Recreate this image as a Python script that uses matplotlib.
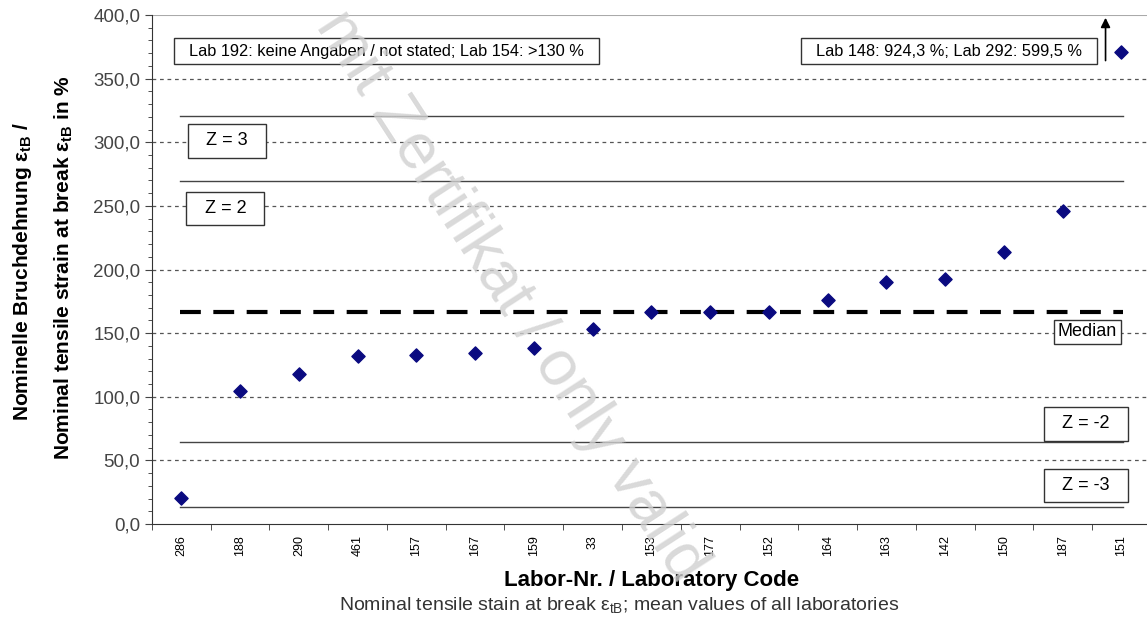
import numpy as np
import matplotlib
matplotlib.use("Agg")
import matplotlib.pyplot as plt
from matplotlib.ticker import MultipleLocator, FuncFormatter

plt.rcParams['font.family'] = ['Liberation Sans', 'DejaVu Sans']

# Labor-Codes und Mittelwerte
labs = ["286", "188", "290", "461", "157", "167", "159", "33", "153",
        "177", "152", "164", "163", "142", "150", "187", "151"]
werte = [20.4, 104.5, 118.0, 132.0, 133.0, 134.0, 138.0, 153.0, 167.0,
         167.0, 167.0, 176.0, 190.0, 192.5, 214.0, 246.0, 371.0]

median = 167.0
z_linien = {"Z = 3": 320.9, "Z = 2": 269.6, "Z = -2": 64.4, "Z = -3": 13.1}

fig = plt.figure(figsize=(11.47, 6.17), dpi=100)
ax = fig.add_axes([0.1325, 0.1507, 0.8708, 0.825])

x = np.arange(len(labs))
ax.set_xlim(-0.5, len(labs) - 0.5)
ax.set_ylim(0, 400)

# Gitter
for g in range(50, 400, 50):
    ax.axhline(g, color="#555555", lw=0.9, ls=(0, (3, 3)), zorder=1)
ax.axhline(400, color="#aaaaaa", lw=1.5, zorder=1)

# Z-Linien und Median
x0, x1 = -0.03, 16.03
for name, v in z_linien.items():
    ax.plot([x0, x1], [v, v], color="#444444", lw=1.0, zorder=2)
ax.plot([x0, x1], [median, median], color="black", lw=3, ls=(0, (5, 3)), zorder=3)

ax.scatter(x, werte, marker="D", s=45, color="#0a0a80", zorder=4)

box = dict(boxstyle="square,pad=0.35", fc="white", ec="#333333", lw=1)
ax.text(-0.02, 371.5, "  Lab 192: keine Angaben / not stated; Lab 154: >130 %  ",
        fontsize=11.8, va="center", ha="left", bbox=box, zorder=5)
ax.text(10.65, 371.5, "  Lab 148: 924,3 %; Lab 292: 599,5 %  ",
        fontsize=11.8, va="center", ha="left", bbox=box, zorder=5)
ax.annotate("", xy=(15.73, 400), xytext=(15.73, 362),
            arrowprops=dict(arrowstyle="-|>", color="black", lw=1.2,
                            mutation_scale=14), zorder=6)

box2 = dict(boxstyle="square,pad=0.45", fc="white", ec="#333333", lw=1)
ax.text(0.77, 301, "  Z = 3  ", fontsize=13, ha="center", va="center", bbox=box2, zorder=5)
ax.text(0.75, 248, "  Z = 2  ", fontsize=13, ha="center", va="center", bbox=box2, zorder=5)
ax.text(15.4, 78.6, "  Z = -2  ", fontsize=13, ha="center", va="center", bbox=box2, zorder=5)
ax.text(15.4, 30, "  Z = -3  ", fontsize=13, ha="center", va="center", bbox=box2, zorder=5)
ax.text(15.42, 151, "Median", fontsize=13, ha="center", va="center",
        bbox=dict(boxstyle="square,pad=0.2", fc="white", ec="#333333", lw=1), zorder=5)

# Achsen
for s in ["top", "right"]:
    ax.spines[s].set_visible(False)
ax.spines["left"].set_color("#333333")
ax.spines["bottom"].set_color("#333333")
ax.yaxis.set_major_locator(MultipleLocator(50))
ax.yaxis.set_minor_locator(MultipleLocator(10))
ax.yaxis.set_major_formatter(FuncFormatter(lambda v, p: f"{v:.1f}".replace(".", ",")))
ax.tick_params(axis="y", which="major", labelsize=13.5, colors="#444444", length=5)
ax.tick_params(axis="y", which="minor", length=3, color="#333333")

ax.set_xticks(x)
ax.set_xticklabels(labs, rotation=90, fontsize=9)
ax.set_xticks(np.arange(-0.5, len(labs)), minor=True)
ax.tick_params(axis="x", which="major", length=0, pad=8)
ax.tick_params(axis="x", which="minor", length=4, color="#333333")

ax.set_xlabel("Labor-Nr. / Laboratory Code", fontsize=16, fontweight="bold", labelpad=10)
fig.text(0.54, 0.003, r"Nominal tensile stain at break $\mathregular{\epsilon_{tB}}$; mean values of all laboratories",
         ha="center", va="bottom", fontsize=14, color="#333333")
fig.text(0.02, 0.56, r"Nominelle Bruchdehnung $\mathregular{\epsilon_{tB}}$ /",
         rotation=90, ha="center", va="center", fontsize=15, fontweight="bold")
fig.text(0.056, 0.566, r"Nominal tensile strain at break $\mathregular{\epsilon_{tB}}$ in %",
         rotation=90, ha="center", va="center", fontsize=15, fontweight="bold")

# Wasserzeichen
fig.text(0.445, 0.52, "mit Zertifikat / only valid", rotation=-57, fontsize=46,
         color="#d0d0d0", ha="center", va="center", alpha=0.8, zorder=0)

fig.savefig("out.png", dpi=100)
